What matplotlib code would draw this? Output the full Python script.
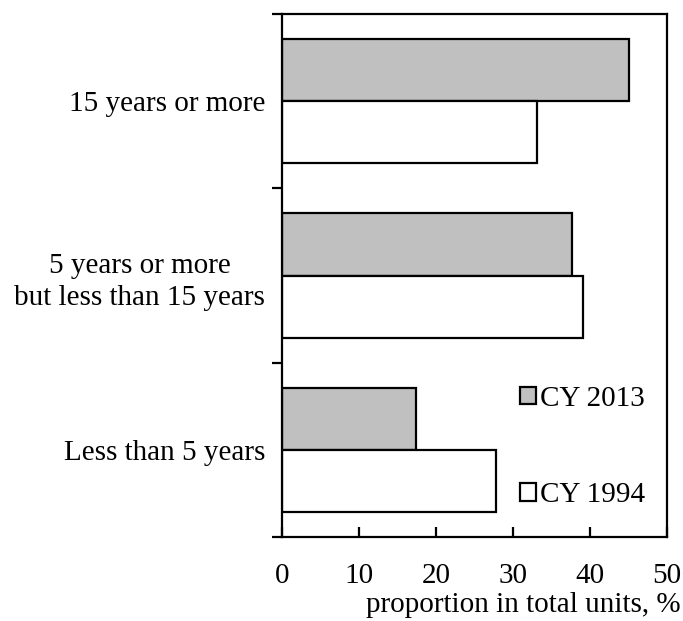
import matplotlib
matplotlib.use("Agg")
import matplotlib.pyplot as plt
import numpy as np
from matplotlib.patches import Patch

plt.rcParams['font.family'] = ['Liberation Serif', 'DejaVu Serif']

categories = ["Less than 5 years", "5 years or more\nbut less than 15 years", "15 years or more"]
cy2013 = [17.4, 37.7, 45.0]
cy1994 = [27.8, 39.1, 33.1]
series_labels = ["CY 2013", "CY 1994"]
xticks = [0, 10, 20, 30, 40, 50]

FS = 21

fig = plt.figure(figsize=(6.83, 6.21), dpi=100)
ax = fig.add_axes([282/683, 84/621, 385/683, 523/621])

pos = np.arange(len(categories)) + 0.5
h = 0.356
ax.barh(pos + h/2, cy2013, height=h, color="#c0c0c0", edgecolor="black", linewidth=1.6, label=series_labels[0])
ax.barh(pos - h/2, cy1994, height=h, color="white", edgecolor="black", linewidth=1.6, label=series_labels[1])

ax.set_xlim(0, 50)
ax.set_ylim(0, 3)
for s in ax.spines.values():
    s.set_linewidth(1.6)

ax.set_xticks(xticks)
ax.set_xticklabels([str(v) for v in xticks], fontsize=FS)
ax.tick_params(axis='x', direction='in', length=7, width=1.6, pad=19)

ax.set_yticks([0, 1, 2, 3])
ax.set_yticklabels([])
ax.set_yticks(pos, minor=True)
ax.set_yticklabels(categories, minor=True, fontsize=FS)
ax.tick_params(axis='y', which='major', direction='out', length=7, width=1.6)
ax.tick_params(axis='y', which='minor', length=0, pad=12)
for lbl in ax.get_yticklabels(minor=True):
    lbl.set_multialignment('center')
    lbl.set_linespacing(1.32)

fig.text(681/683, 1 - 605/621, "proportion in total units, %", ha='right', va='center', fontsize=FS)

# legend entries
handles = [Patch(facecolor="#c0c0c0", edgecolor="black", linewidth=1.6),
           Patch(facecolor="white", edgecolor="black", linewidth=1.6)]
leg = ax.legend(handles, series_labels, loc='lower right', bbox_to_anchor=(0.995, 0.016),
                frameon=False, fontsize=FS, handlelength=0.55, handleheight=0.55,
                handletextpad=0.12, labelspacing=2.42, borderaxespad=0.3)

fig.savefig("out.png", dpi=100)
